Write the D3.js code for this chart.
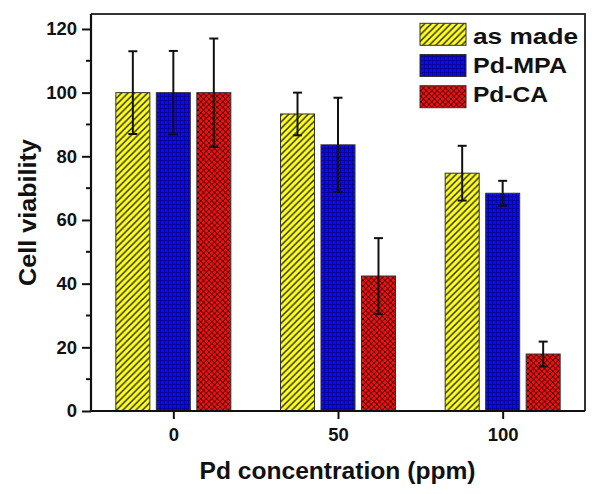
<!DOCTYPE html>
<html><head><meta charset="utf-8">
<script src="https://cdn.jsdelivr.net/npm/d3@7/dist/d3.min.js"></script>
<style>body{margin:0;background:#fff}svg{display:block;font-family:"Liberation Sans",Arial,sans-serif;font-weight:bold}</style>
</head><body><svg id="c" width="600" height="494"></svg>
<script>
const categories = ["0", "50", "100"];
const seriesNames = ["as made", "Pd-MPA", "Pd-CA"];
const asMade = [100, 93.3, 74.7];
const pdMPA = [100, 83.6, 68.4];
const pdCA = [100, 42.4, 17.9];
const errAsMade = [13, 6.7, 8.6];
const errMPA = [13.1, 14.8, 3.9];
const errCA = [17, 11.9, 3.9];
const yTicks = [0, 20, 40, 60, 80, 100, 120];
const yMinor = [10, 30, 50, 70, 90, 110];

const values = [asMade, pdMPA, pdCA];
const errs = [errAsMade, errMPA, errCA];
const svg = d3.select("#c");
const L = 91, R = 585, T = 14, B = 411;

const x = d3.scalePoint().domain(categories).range([L, R]).padding(0.5);
const y = d3.scaleLinear().domain([0, 124.7]).range([B, T]);
const xs = d3.scaleBand().domain(seriesNames).range([-57.5, 57.5]).paddingInner(0.16);

// patterns
const defs = svg.append("defs");
const p1 = defs.append("pattern").attr("id","pYellow").attr("patternUnits","userSpaceOnUse").attr("width",6.5).attr("height",6.5);
p1.append("rect").attr("width",6.5).attr("height",6.5).attr("fill","#ffff1a");
p1.append("path").attr("d","M0,6.5L6.5,0M-1.5,1.5L1.5,-1.5M5,8L8,5").attr("stroke","#222").attr("stroke-width",1.4);
const p2 = defs.append("pattern").attr("id","pBlue").attr("patternUnits","userSpaceOnUse").attr("width",4).attr("height",4);
p2.append("rect").attr("width",4).attr("height",4).attr("fill","#0a0aee");
p2.append("path").attr("d","M0,0H4M0,0V4").attr("stroke","#000055").attr("stroke-width",0.9);
const p3 = defs.append("pattern").attr("id","pRed").attr("patternUnits","userSpaceOnUse").attr("width",5.5).attr("height",5.5);
p3.append("rect").attr("width",5.5).attr("height",5.5).attr("fill","#ee1111");
p3.append("path").attr("d","M0,0L5.5,5.5M5.5,0L0,5.5").attr("stroke","#330000").attr("stroke-width",0.9);
const fills = ["url(#pYellow)","url(#pBlue)","url(#pRed)"];

// bars
seriesNames.forEach((s, si) => {
  const g = svg.append("g");
  g.selectAll("rect").data(values[si]).join("rect")
    .attr("x", (d,i) => x(categories[i]) + xs(s))
    .attr("width", xs.bandwidth())
    .attr("y", d => y(d))
    .attr("height", d => y(0) - y(d))
    .attr("fill", fills[si]).attr("stroke","#333").attr("stroke-width",1);
});
// error bars
seriesNames.forEach((s, si) => {
  const g = svg.append("g").attr("stroke","#111").attr("stroke-width",2);
  values[si].forEach((v, i) => {
    const cx = x(categories[i]) + xs(s) + xs.bandwidth()/2;
    const e = errs[si][i];
    g.append("line").attr("x1",cx).attr("x2",cx).attr("y1",y(v+e)).attr("y2",y(v-e));
    g.append("line").attr("x1",cx-4.5).attr("x2",cx+4.5).attr("y1",y(v+e)).attr("y2",y(v+e));
    g.append("line").attr("x1",cx-4.5).attr("x2",cx+4.5).attr("y1",y(v-e)).attr("y2",y(v-e));
  });
});

// frame
svg.append("path").attr("d",`M${L},${T}H${R}V${B}`).attr("fill","none").attr("stroke","#333").attr("stroke-width",2);

// y axis
const ya = svg.append("g").attr("transform",`translate(${L},0)`)
  .call(d3.axisLeft(y).tickValues(yTicks).tickSize(9).tickPadding(5).tickSizeOuter(0));
ya.append("g").selectAll("line").data(yMinor).join("line")
  .attr("x1",-5).attr("x2",0).attr("y1",d=>y(d)).attr("y2",d=>y(d)).attr("stroke","#111").attr("stroke-width",2);
// x axis
const xa = svg.append("g").attr("transform",`translate(0,${B})`)
  .call(d3.axisBottom(x).tickSize(8).tickPadding(9).tickSizeOuter(0));
[ya, xa].forEach(a => {
  a.select(".domain").attr("stroke","#111").attr("stroke-width",2.2);
  a.selectAll(".tick line").attr("stroke","#111").attr("stroke-width",2);
  a.selectAll("text").attr("font-family",'"Liberation Sans",Arial,sans-serif').attr("font-weight","bold")
    .attr("font-size",18.5).attr("fill","#111");
});
ya.selectAll(".domain").attr("d",`M0,${B}V${T}`);
xa.selectAll(".domain").attr("d",`M${L},0H${R}`);

// axis titles
svg.append("text").attr("x",337.5).attr("y",479).attr("text-anchor","middle")
  .attr("font-size",23).attr("fill","#111").attr("textLength",276).attr("lengthAdjust","spacingAndGlyphs")
  .text("Pd concentration (ppm)");
svg.append("text").attr("transform",`translate(36,${(T+B)/2}) rotate(-90)`).attr("text-anchor","middle")
  .attr("font-size",23.5).attr("fill","#111").attr("textLength",147).attr("lengthAdjust","spacingAndGlyphs")
  .text("Cell viability");

// legend
const legW = [105, 94, 75];
const lg = svg.append("g");
seriesNames.forEach((s, i) => {
  lg.append("rect").attr("x",420).attr("y",23.3 + i*31.2).attr("width",46).attr("height",22)
    .attr("fill",fills[i]).attr("stroke","#333").attr("stroke-width",1);
  lg.append("text").attr("x",473).attr("y",43.5 + i*29.2).attr("font-size",22).attr("fill","#111")
    .attr("textLength",legW[i]).attr("lengthAdjust","spacingAndGlyphs").text(s);
});
</script></body></html>
